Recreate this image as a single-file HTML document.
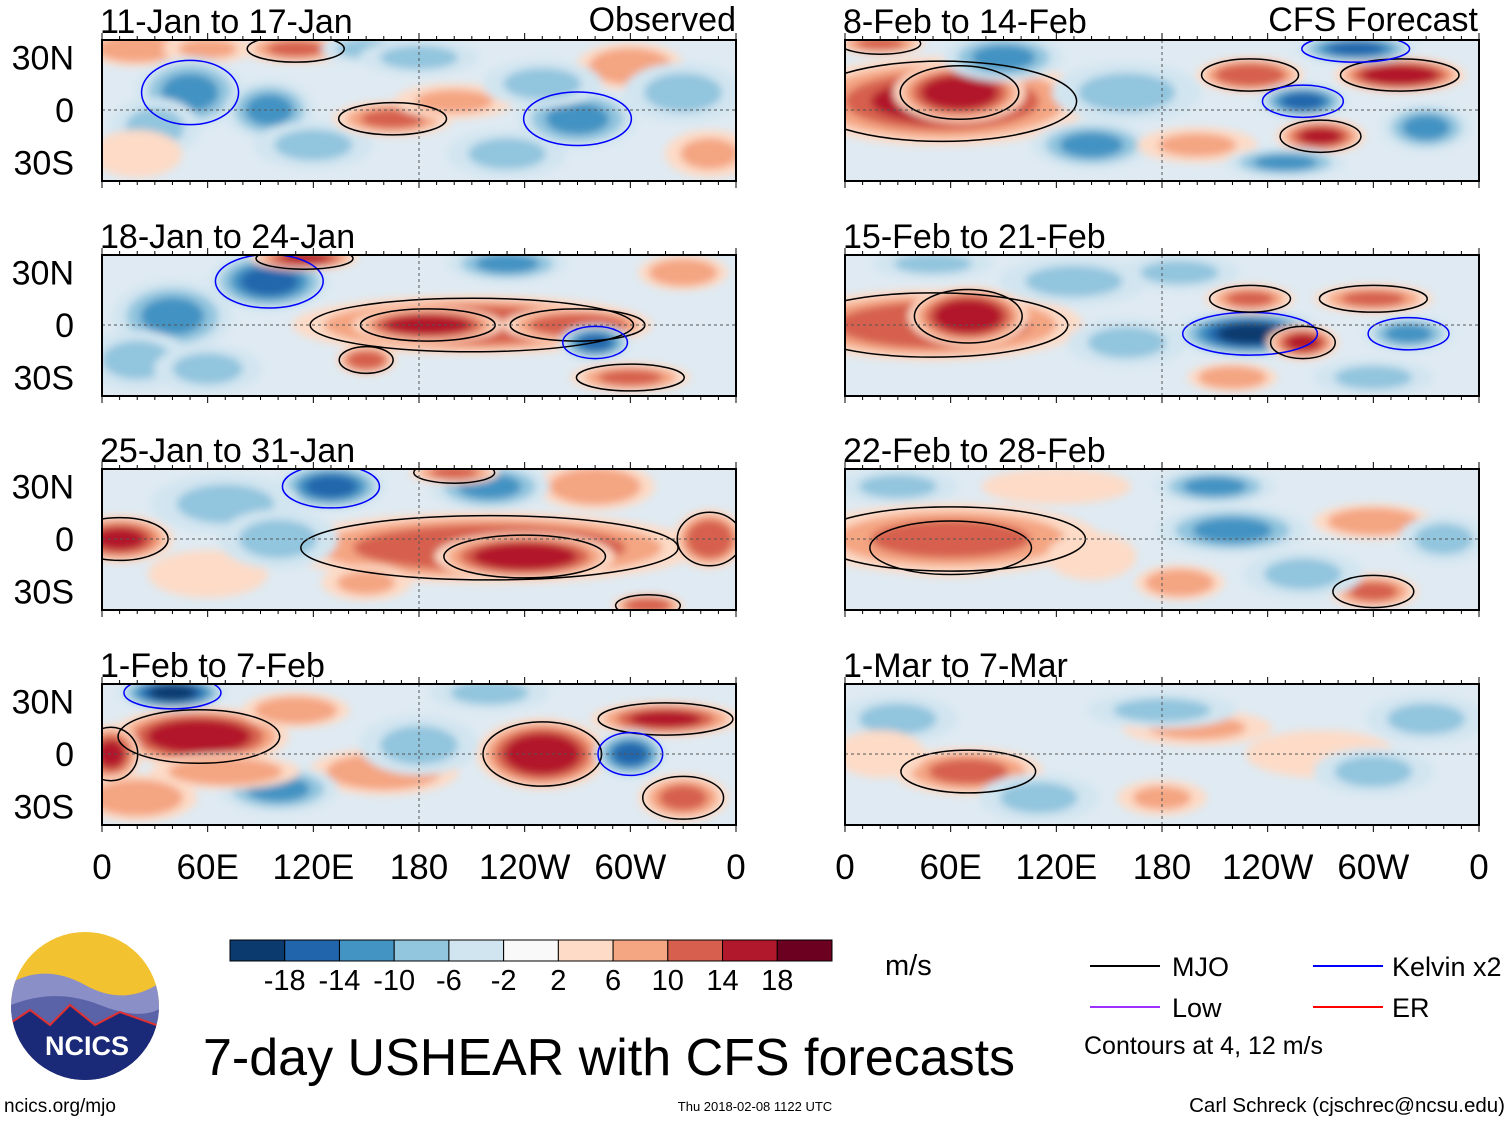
<!DOCTYPE html>
<html><head><meta charset="utf-8"><style>
body{margin:0;background:#fff;width:1510px;height:1121px;overflow:hidden;font-family:"Liberation Sans",sans-serif}
svg text{font-family:"Liberation Sans",sans-serif}
</style></head><body>
<svg id="s" width="1510" height="1121" xmlns="http://www.w3.org/2000/svg">
<defs><filter id="bl" x="-50%" y="-50%" width="200%" height="200%"><feGaussianBlur stdDeviation="4"/></filter></defs>
</svg>
<script>
// Data: blobs as [lon, lat, value(m/s), lonHalfWidthDeg, latHalfWidthDeg]
const titles=["11-Jan to 17-Jan","18-Jan to 24-Jan","25-Jan to 31-Jan","1-Feb to 7-Feb","8-Feb to 14-Feb","15-Feb to 21-Feb","22-Feb to 28-Feb","1-Mar to 7-Mar"];
const p0=[[20,35,10,18,6],[60,35,8,15,5],[110,35,12,18,5],[150,35,-8,15,5],[50,10,-12,18,12],[30,-10,-6,15,10],[95,0,-10,15,10],[120,-20,-8,20,8],[165,-5,12,20,6],[200,5,8,20,6],[230,-25,-6,20,8],[270,-5,-12,20,10],[300,25,10,18,8],[330,10,-8,20,10],[345,-25,8,15,8],[20,-25,6,15,8],[180,30,-6,20,6],[250,15,-6,20,8]];
const p1=[[210,0,14,60,10],[185,0,18,25,6],[270,0,14,25,6],[95,25,-16,20,10],[115,38,16,18,4],[150,-20,14,10,5],[280,-10,-14,12,6],[40,5,-10,20,12],[230,35,-10,20,6],[330,30,10,15,6],[20,-20,-8,18,10],[300,-30,12,20,5],[60,-25,-8,18,8]];
const p2=[[220,-5,14,70,12],[240,-10,18,30,8],[10,0,16,18,8],[130,30,-14,18,8],[280,30,10,20,8],[70,20,-6,25,10],[345,0,14,12,10],[220,30,-10,20,8],[200,38,12,15,4],[310,-38,14,12,4],[60,-20,6,20,8],[150,-25,8,15,6],[100,0,-6,20,10]];
const p3=[[55,10,18,30,10],[40,35,-18,18,6],[5,0,16,10,10],[250,0,18,22,12],[320,20,16,25,6],[300,0,-14,12,8],[160,-10,10,25,8],[110,25,10,18,6],[180,5,-6,20,10],[330,-25,12,15,8],[100,-20,-10,20,8],[20,-25,10,20,8],[220,35,-8,20,6],[70,-10,10,25,6]];
const p4=[[55,5,16,50,15],[65,10,18,22,10],[230,20,14,18,6],[315,20,18,22,6],[270,-15,16,15,6],[260,5,-14,15,6],[160,10,-8,25,10],[140,-20,-10,20,8],[290,35,-14,20,5],[90,30,-10,20,8],[20,38,12,15,4],[330,-10,-10,15,8],[200,-20,8,20,6],[250,-30,-10,20,5]];
const p5=[[50,0,14,50,12],[70,5,18,20,10],[230,-5,-18,25,8],[260,-10,16,12,6],[230,15,12,15,5],[300,15,12,20,5],[320,-5,-12,15,6],[130,25,-8,25,8],[160,-10,-6,20,8],[300,-30,-8,20,6],[220,-30,10,15,5],[50,35,-8,20,5],[190,30,-6,20,6]];
const p6=[[60,-5,18,30,10],[60,0,12,50,12],[140,-10,6,15,8],[220,5,-10,25,8],[210,30,-10,20,6],[300,10,10,20,6],[190,-25,10,15,6],[300,-30,12,15,6],[260,-20,-8,20,8],[340,0,-8,15,8],[120,30,4,25,6],[30,30,-6,20,6]];
const p7=[[70,-10,12,25,8],[200,15,8,25,6],[270,0,6,25,8],[180,25,-8,25,6],[330,20,-8,20,8],[300,-10,-6,20,8],[180,-25,8,15,6],[30,20,-6,20,8],[20,0,6,15,8],[110,-25,-6,20,8]];
const panels=[p0,p1,p2,p3,p4,p5,p6,p7];
const lonTicks=["0","60E","120E","180","120W","60W","0"];
const latTicks=[["30N",30],["0",0],["30S",-30]];
const levels=["-18","-14","-10","-6","-2","2","6","10","14","18"];
const cols=["#0b3b6e","#2166ac","#4393c3","#92c5de","#d1e5f0","#f9f9f9","#fddbc7","#f4a582","#d6604d","#b2182b","#6b0020"];

const S=document.getElementById('s'),NS="http://www.w3.org/2000/svg";
function mk(t,a,p){const e=document.createElementNS(NS,t);for(const k in a)e.setAttribute(k,a[k]);(p||S).appendChild(e);return e;}
function color(v){const b=[-18,-14,-10,-6,-2,2,6,10,14,18];let i=0;while(i<b.length&&v>b[i])i++;return cols[i];}
const tops=[40,255,469,684],H=141,W=634,SC=1.7;
panels.forEach((data,pi)=>{
 const x0=pi<4?102:845,y0=tops[pi%4];
 const X=l=>x0+l/360*W,Y=la=>y0+70-la*1.75;
 const g=mk('g',{});
 
 
 const cp=mk('clipPath',{id:'c'+pi},g);mk('rect',{x:x0,y:y0,width:W,height:H},cp);
 const inner=mk('g',{'clip-path':'url(#c'+pi+')'},g);
 mk('rect',{x:x0,y:y0,width:W,height:H,fill:'#dfeaf2'},inner);
 const bg=mk('g',{filter:'url(#bl)'},inner);
 data.forEach(d=>{
  const v=d[2],n=Math.ceil(Math.abs(v)/4);
  for(let k=1;k<=n;k++){const f=1-(k-1)/n*0.7;const vv=Math.sign(v)*Math.min(Math.abs(v),(k*4));
   const e=mk('ellipse',{cx:X(d[0]),cy:Y(d[1]),rx:d[3]/360*W*f*SC,ry:d[4]*1.75*f*SC,fill:color(vv)},bg);
   
   }
 });
 data.forEach(d=>{ if(Math.abs(d[2])>=12){
   const c=mk('ellipse',{cx:X(d[0]),cy:Y(d[1]),rx:d[3]/360*W*SC*0.9,ry:d[4]*1.75*SC*0.9,fill:'none',stroke:d[2]>0?'#000':'#0000ff','stroke-width':1.5},inner);
   
   }});
 mk('line',{x1:x0,x2:x0+W,y1:Y(0),y2:Y(0),stroke:'#555','stroke-dasharray':'3,3','stroke-width':1},inner);
 mk('line',{x1:X(180),x2:X(180),y1:y0,y2:y0+H,stroke:'#555','stroke-dasharray':'3,3','stroke-width':1},inner);
 mk('rect',{x:x0,y:y0,width:W,height:H,fill:'none',stroke:'#000','stroke-width':2},g);
 for(let l=0;l<=360;l+=10){const len=l%60==0?7:4;mk('line',{x1:X(l),x2:X(l),y1:y0,y2:y0-len,stroke:'#000'},g);mk('line',{x1:X(l),x2:X(l),y1:y0+H,y2:y0+H+len,stroke:'#000'},g);}
 const t=mk('text',{x:x0-2,y:y0-7,'font-size':34},g);t.textContent=titles[pi];
 
 
 if(pi<4){latTicks.forEach(q=>{const tt=mk('text',{x:74,y:Y(q[1])+12,'font-size':34,'text-anchor':'end'},g);tt.textContent=q[0];
  
  });}
 if(pi%4==3){lonTicks.forEach((s,i)=>{const tt=mk('text',{x:X(i*60),y:879,'font-size':35,'text-anchor':'middle'},g);tt.textContent=s;
  
  });}
});
function txt(x,y,s,fs,anc,name){const t=mk('text',{x:x,y:y,'font-size':fs,'text-anchor':anc||'start'});t.textContent=s;
 
 return t;}
txt(736,31,"Observed",34,'end','observed-label');
txt(1478,31,"CFS Forecast",34,'end','forecast-label');
const cb=mk('g',{});


const bw=602/11;
cols.forEach((c,i)=>mk('rect',{x:230+i*bw,y:940,width:bw,height:21,fill:c,stroke:'#000','stroke-width':1},cb));
levels.forEach((s,i)=>{const t=mk('text',{x:230+(i+1)*bw,y:990,'font-size':29,'text-anchor':'middle'},cb);t.textContent=s;});
txt(885,975,"m/s",29,'start','units-label');
const lg=[[1090,966,'#000','MJO',1172],[1090,1007,'#9b30ff','Low',1172],[1313,966,'#0000ff','Kelvin x2',1392],[1313,1007,'#ff0000','ER',1392]];
lg.forEach(q=>{const l=mk('line',{x1:q[0],x2:q[0]+70,y1:q[1],y2:q[1],stroke:q[2],'stroke-width':2});
 
 
 txt(q[4],q[1]+10,q[3],27,'start','legend-entry');});
txt(1084,1054,"Contours at 4, 12 m/s",25,'start','contour-note');
txt(203,1075,"7-day USHEAR with CFS forecasts",52,'start','chart-title');
txt(4,1112,"ncics.org/mjo",19,'start','website-label');
txt(755,1111,"Thu 2018-02-08 1122 UTC",13,'middle','timestamp');
txt(1505,1112,"Carl Schreck (cjschrec@ncsu.edu)",20.5,'end','author-credit');
const lo=mk('g',{});


const lc=mk('clipPath',{id:'lc'},lo);mk('circle',{cx:85,cy:1006,r:74},lc);
const li=mk('g',{'clip-path':'url(#lc)'},lo);
mk('rect',{x:0,y:930,width:170,height:160,fill:'#f2c230'},li);
mk('path',{d:'M0 990 Q40 960 85 985 T170 975 L170 1090 L0 1090Z',fill:'#8a8fc8'},li);
mk('path',{d:'M0 1010 Q50 985 100 1005 T170 1000 L170 1090 L0 1090Z',fill:'#5a62a8'},li);
mk('path',{d:'M0 1030 L30 1010 L50 1025 L70 1005 L95 1025 L120 1012 L170 1030 L170 1090 L0 1090Z',fill:'#1a2a78',stroke:'#e03030','stroke-width':2},li);
const nt=mk('text',{x:87,y:1055,'font-size':27,'font-weight':'bold',fill:'#fff','text-anchor':'middle'},lo);nt.textContent="NCICS";
</script>
</body></html>
